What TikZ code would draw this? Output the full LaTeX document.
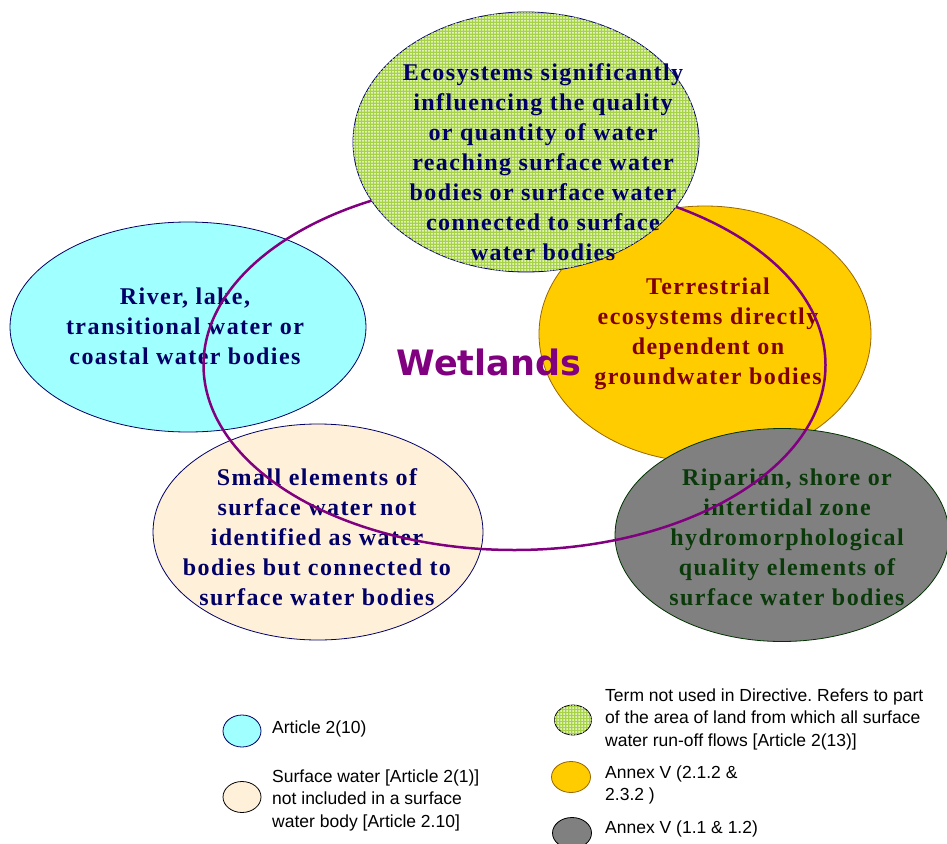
\documentclass[tikz,border=0pt]{standalone}
\usepackage{fontspec}
\setmainfont{Liberation Serif}
\newfontfamily\tnr[LetterSpace=6]{Liberation Serif}
\newfontfamily\ari{Liberation Sans}
\newfontfamily\dvs{DejaVu Sans}
\usetikzlibrary{shapes.geometric,patterns.meta}
\frenchspacing
\definecolor{navyt}{HTML}{000066}
\definecolor{cyanf}{HTML}{A0FFFF}
\definecolor{beigef}{HTML}{FFF0D9}
\definecolor{orangef}{HTML}{FFCC00}
\definecolor{orangeb}{HTML}{996600}
\definecolor{greyf}{HTML}{808080}
\definecolor{greyb}{HTML}{003300}
\definecolor{gbase}{HTML}{A6D245}
\definecolor{gdot}{HTML}{F4FBE6}
\definecolor{purp}{HTML}{800080}
\definecolor{maroont}{HTML}{800000}
\definecolor{dgreent}{HTML}{0A3A0A}
\tikzset{
  blob/.style={ellipse, draw, inner sep=0pt, line width=0.8pt},
  greenfill/.style={fill=gbase, postaction={pattern={Dots[distance=3pt, radius=1pt]}, pattern color=gdot}},
  big/.style={font=\tnr\bfseries\fontsize{24}{30}\selectfont, align=center, inner sep=0pt},
  leg/.style={font=\ari\fontsize{17.5}{22.5}\selectfont, align=left, anchor=west, inner sep=0pt, text=black},
}
\begin{document}
\begin{tikzpicture}[x=1pt,y=-1pt]
\useasboundingbox (0,0) rectangle (947,843);
% main ellipses
\node[blob, draw=navyt, fill=cyanf, minimum width=356pt, minimum height=210pt] (cyanE) at (188,327) {};
\node[blob, draw=navyt, fill=beigef, minimum width=330pt, minimum height=216pt] (beigeE) at (318,532) {};
\node[blob, draw=orangeb, fill=orangef, minimum width=332pt, minimum height=256pt] (orangeE) at (705,334) {};
\node[blob, draw=greyb, fill=greyf, minimum width=334pt, minimum height=213pt] (greyE) at (782,535) {};
% texts
\node[big, text=navyt] (cyanT) at (185,326) {River, lake,\\transitional water or\\coastal water bodies};
\node[big, text=navyt] (beigeT) at (317,537) {Small elements of\\surface water not\\identified as water\\bodies but connected to\\surface water bodies};
\node[big, text=maroont] (orangeT) at (708,334) {Terrestrial\\ecosystems directly\\dependent on\\groundwater bodies};
\node[big, text=dgreent] (greyT) at (787,537) {Riparian, shore or\\intertidal zone\\hydromorphological\\quality elements of\\surface water bodies};
\node[font=\dvs\bfseries\fontsize{35}{40}\selectfont, text=purp, inner sep=0pt] (wet) at (489,362) {Wetlands};
% wetlands ellipse
\node[ellipse, draw=purp, line width=2.5pt, inner sep=0pt, minimum width=622pt, minimum height=370pt] (wetE) at (514.5,365) {};
% top green ellipse
\node[blob, draw=navyt, greenfill, minimum width=346pt, minimum height=260pt] (greenE) at (526,142) {};
\node[big, text=navyt] (greenT) at (543,162) {Ecosystems significantly\\influencing the quality\\or quantity of water\\reaching surface water\\bodies or surface water\\connected to surface\\water bodies};
% legend
\node[blob, draw=navyt, fill=cyanf, minimum width=38pt, minimum height=32pt] (lc) at (242,731) {};
\node[leg] (lcT) at (272,729) {Article 2(10)};
\node[blob, draw=black, fill=beigef, minimum width=38pt, minimum height=31pt] (lb) at (242,797) {};
\node[leg] (lbT) at (272,800) {Surface water [Article 2(1)]\\not included in a surface\\water body [Article 2.10]};
\node[blob, draw=black, greenfill, minimum width=37pt, minimum height=30pt] (lg) at (573,720) {};
\node[leg] (lgT) at (605,719) {Term not used in Directive. Refers to part\\of the area of land from which all surface\\water run-off flows [Article 2(13)]};
\node[blob, draw=orangeb, fill=orangef, minimum width=39pt, minimum height=31pt] (lo) at (571,777) {};
\node[leg] (loT) at (605,785) {Annex V (2.1.2 \&\\2.3.2 )};
\node[blob, draw=black, fill=greyf, minimum width=39pt, minimum height=31pt] (lgr) at (572,833) {};
\node[leg] (lgrT) at (605,829) {Annex V (1.1 \& 1.2)};
\end{tikzpicture}
\end{document}
